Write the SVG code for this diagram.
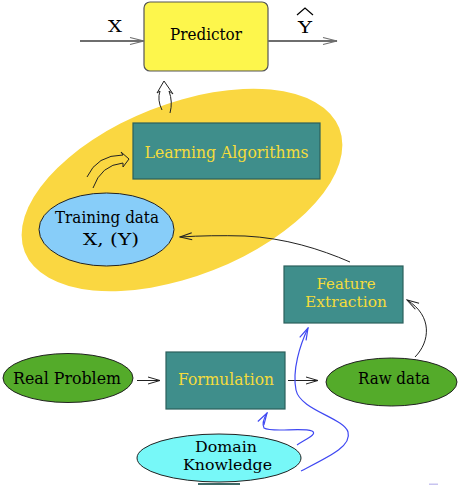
<svg xmlns="http://www.w3.org/2000/svg" width="460" height="485" viewBox="0 0 460 485">
<style>
text{font-family:"DejaVu Serif","Noto Serif","Liberation Serif",serif;font-size:17.5px;text-anchor:middle}
.sm{font-size:15.5px}
.box{fill:#3f8e8b;stroke:#2b5f5c;stroke-width:1.2}
.yt{fill:#f4dc3c}
.bt{fill:#000}
.ln{fill:none;stroke:#222;stroke-width:1}
.gl{fill:none;stroke:#6e6e6e;stroke-width:1.8}
.bl{fill:none;stroke:#3f48f2;stroke-width:1.2}
.el{stroke:#222;stroke-width:1}
</style>
<defs>
<marker id="ah" markerUnits="userSpaceOnUse" viewBox="0 0 14 10" refX="13" refY="5" markerWidth="14" markerHeight="10" orient="auto">
<path d="M1,1.5 L13,5 L1,8.5" fill="none" stroke="#222" stroke-width="1"/>
</marker>
<marker id="ahg" markerUnits="userSpaceOnUse" viewBox="0 0 16 10" refX="15" refY="5" markerWidth="16" markerHeight="10" orient="auto">
<path d="M1,1.5 L15,5 L1,8.5" fill="none" stroke="#6e6e6e" stroke-width="1.2"/>
</marker>
<marker id="ahb" markerUnits="userSpaceOnUse" viewBox="0 0 14 10" refX="13" refY="5" markerWidth="14" markerHeight="10" orient="auto">
<path d="M1,1.5 L13,5 L1,8.5" fill="none" stroke="#3f48f2" stroke-width="1.2"/>
</marker>
</defs>

<g id="ml-region">
<ellipse cx="182" cy="190" rx="169" ry="86" transform="rotate(-21.5 182 190)" fill="#fad741"/>
</g>

<g id="predictor">
<rect x="144" y="2" width="124" height="69" rx="6" fill="#fdf64c" stroke="#555" stroke-width="1.2"/>
<text x="206" y="40" class="bt" textLength="72" lengthAdjust="spacingAndGlyphs">Predictor</text>
</g>

<g id="input-x">
<text x="115" y="32" class="bt" textLength="14" lengthAdjust="spacingAndGlyphs">X</text>
</g>

<g id="output-y">
<text x="305" y="33" class="bt" textLength="14" lengthAdjust="spacingAndGlyphs">Y</text>
<path d="M297,15 L305,8 L313,15" fill="none" stroke="#000" stroke-width="1.2"/>
</g>

<g id="learning-algorithms">
<rect x="133" y="123" width="187" height="56" class="box"/>
<text x="226.5" y="158" class="yt" textLength="164" lengthAdjust="spacingAndGlyphs">Learning Algorithms</text>
</g>

<g id="training-data">
<ellipse cx="106.5" cy="229.5" rx="67.5" ry="36.5" fill="#87cdf9" class="el"/>
<text x="107" y="223" class="bt" textLength="104" lengthAdjust="spacingAndGlyphs">Training data</text>
<text x="111" y="245" class="bt" textLength="56" lengthAdjust="spacingAndGlyphs">X,  (Y)</text>
</g>

<g id="feature-extraction">
<rect x="284" y="266" width="119" height="57" class="box"/>
<text x="346" y="289" class="yt sm" textLength="59" lengthAdjust="spacingAndGlyphs">Feature</text>
<text x="346" y="307" class="yt sm" textLength="82" lengthAdjust="spacingAndGlyphs">Extraction</text>
</g>

<g id="real-problem">
<ellipse cx="68" cy="378" rx="65" ry="24.5" fill="#54ab2a" class="el"/>
<text x="67" y="384" class="bt" textLength="108" lengthAdjust="spacingAndGlyphs">Real Problem</text>
</g>

<g id="formulation">
<rect x="166" y="352" width="119" height="57" class="box"/>
<text x="226" y="385" class="yt" textLength="96" lengthAdjust="spacingAndGlyphs">Formulation</text>
</g>

<g id="raw-data">
<ellipse cx="391.5" cy="382" rx="65.5" ry="24" fill="#54ab2a" class="el"/>
<text x="394" y="384" class="bt" textLength="72" lengthAdjust="spacingAndGlyphs">Raw data</text>
</g>

<g id="domain-knowledge">
<ellipse cx="219" cy="458" rx="82" ry="24" fill="#77f8f8" class="el"/>
<text x="226" y="452" class="bt sm" textLength="62" lengthAdjust="spacingAndGlyphs">Domain</text>
<text x="227.5" y="470" class="bt sm" textLength="89" lengthAdjust="spacingAndGlyphs">Knowledge</text>
</g>

<g id="connectors">
<line x1="80" y1="41" x2="144" y2="41" class="gl" marker-end="url(#ahg)"/>
<line x1="268" y1="41" x2="337" y2="41" class="gl" marker-end="url(#ahg)"/>
<path d="M162,110 Q157,100 160,91 L157,93 L164,81 L173,94 L169,91 Q173,102 170,113" class="ln"/>
<path d="M87,177 Q97,155 123,155 L121,152 L129,159 L123,167 L123,163 Q101,165 93,188" class="ln"/>
<path d="M350,262 C320,249 285,238 245,236 Q210,235 180,237" class="ln" marker-end="url(#ah)"/>
<path d="M415,357 C430,342 433,316 407,300" class="ln" marker-end="url(#ah)"/>
<line x1="137" y1="380.5" x2="160" y2="380.5" class="ln" marker-end="url(#ah)"/>
<line x1="288" y1="380.5" x2="318" y2="380.5" class="ln" marker-end="url(#ah)"/>
<path d="M297,445 C306,439 318,434 312,431 C302,427 272,433 264,428 C262,424 264,418 267,413" class="bl" marker-end="url(#ahb)"/>
<path d="M301,471 C330,456 352,446 348,432 C344,418 300,410 296,390 C292,370 300,345 308,328" class="bl" marker-end="url(#ahb)"/>
</g>

<rect x="198" y="483" width="42" height="2" fill="#3d6866"/>
<rect x="429" y="483.5" width="9" height="1.5" fill="#c8c4f0"/>
</svg>
